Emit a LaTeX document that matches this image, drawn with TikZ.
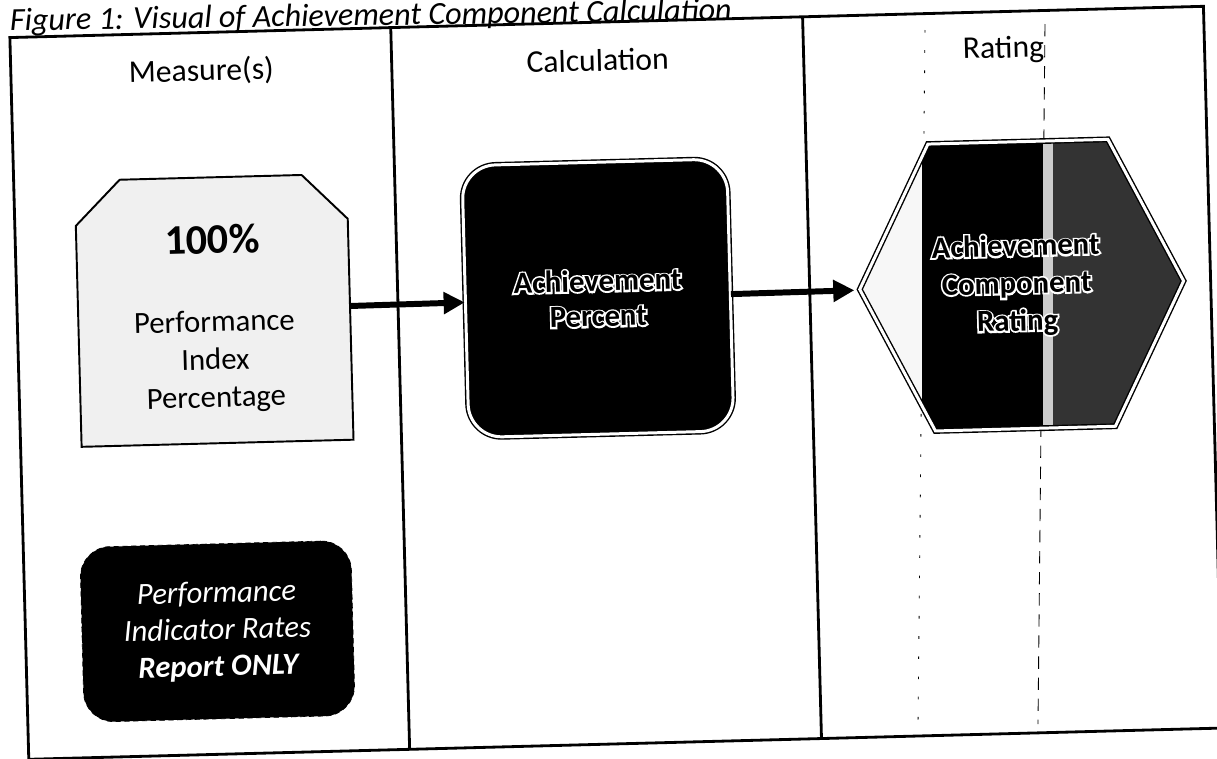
\documentclass[tikz,border=0pt]{standalone}
\usepackage{fontspec}
\setmainfont{Carlito}
\usetikzlibrary{arrows.meta}

\newcommand*{\px}{0.02cm} % one grid unit
\newcommand*{\tilt}{1.5}  % the sheet sits a little askew
% black letters ringed in white: a wide white stroke first, the filled word over it
\newcommand*{\hollow}[1]{\rlap{\special{pdf:code 1 Tr 1.9 w 1 G}#1\special{pdf:code 0 Tr 0.3985 w 0 G}}#1}

\tikzset{
  frameline/.style={line width=1.6pt},
  colhead/.style={font=\fontsize{18}{22}\selectfont},
  boxtext/.style={align=center, inner sep=0pt, font=\fontsize{17.5}{21.5}\selectfont},
  flow/.style={line width=3.4pt, -{Triangle[length=12pt, width=12pt]}},
  doubleline/.style={draw=black, line width=0.8pt, double=white, double distance=1.7pt},
  scanline/.style={line width=0.5pt, dash pattern=on 7pt off 5pt},
  % cx, cy, half width, half height, cut
  cutcorners/.style n args={5}{insert path={(#1-#3,#2+#4) -- (#1-#3,#2-#4+#5) -- (#1-#3+#5,#2-#4) -- (#1+#3-#5,#2-#4) -- (#1+#3,#2-#4+#5) -- (#1+#3,#2+#4) -- cycle}},
  % cx, cy, half width, half height, inset
  hexagon/.style n args={5}{insert path={(#1-#3,#2) -- (#1-#3+#5,#2-#4) -- (#1+#3-#5,#2-#4) -- (#1+#3,#2) -- (#1+#3-#5,#2+#4) -- (#1-#3+#5,#2+#4) -- cycle}},
}

\begin{document}
\begin{tikzpicture}[x=\px, y=-\px]
\path[fill=white, use as bounding box] (0,0) rectangle (1217,758);
% scanner streaks
\draw[scanline] (1045,24) -- (1038,724);
\draw[scanline, dash pattern=on 1.5pt off 10pt] (925,30) -- (918,724);
\begin{scope}[rotate around={\tilt:(608.5,379)}, transform shape]
  \node[anchor=base west, inner sep=0pt, rotate=-0.7, font=\itshape\fontsize{18.3}{21}\selectfont] (title) at (19,15) {Figure 1: Visual of Achievement Component Calculation};
  % frame and columns
  \draw[frameline] (19,22) rectangle (1213,744);
  \draw[frameline] (400,22) -- (400,744);
  \draw[frameline] (812,22) -- (812,744);
  \node[colhead] (measurehead) at (209.5,61) {Measure(s)};
  \node[colhead] (calchead) at (606,60) {Calculation};
  \node[colhead] (ratinghead) at (1012,60) {Rating};

  \draw[line width=1.1pt, fill=gray!12, cutcorners={216}{300}{136}{133}{45}];
  \node[boxtext, minimum width=272*\px, minimum height=266*\px] (measure) at (216,300)
    {{\fontsize{24}{28}\selectfont\bfseries\rule{0pt}{26pt}100\%}\\[23pt]Performance\\Index\\Percentage};

  \node[boxtext, fill=black, doubleline, rounded corners=19pt, minimum width=265*\px, minimum height=272*\px,
    font=\bfseries\fontsize{17.5}{20}\selectfont] (percent) at (600,298) {\hollow{Achievement}\\\hollow{Percent}};

  % rating hexagon, black with two paler bands
  \fill[black, hexagon={1024}{296}{162}{143.5}{72}];
  \begin{scope}
    \clip[hexagon={1024}{296}{162}{143.5}{72}];
    \begin{scope}[rotate around={-\tilt:(608.5,379)}]
      \fill[gray!6] (840,100) rectangle (922,480);
      \fill[gray!40] (1043,100) rectangle (1053,480);
      \fill[black!80] (1053,100) rectangle (1210,480);
    \end{scope}
  \end{scope}
  \draw[doubleline, hexagon={1024}{296}{162}{143.5}{72}];
  \node[boxtext, minimum width=324*\px, minimum height=287*\px,
    font=\bfseries\fontsize{17.5}{21.3}\selectfont] (rating) at (1019,296) {\hollow{Achievement}\\\hollow{Component}\\\hollow{Rating}};

  \draw[flow] (measure) -- (percent);
  \draw[flow] (percent) -- (rating);

  \node[boxtext, fill=black, draw=black, densely dashed, rounded corners=17pt, text=white,
    minimum width=271*\px, minimum height=175*\px, font=\itshape\fontsize{17.5}{21}\selectfont] (report) at (211,621)
    {Performance\\Indicator Rates\\\textbf{Report ONLY}};
\end{scope}
\end{tikzpicture}
\end{document}
